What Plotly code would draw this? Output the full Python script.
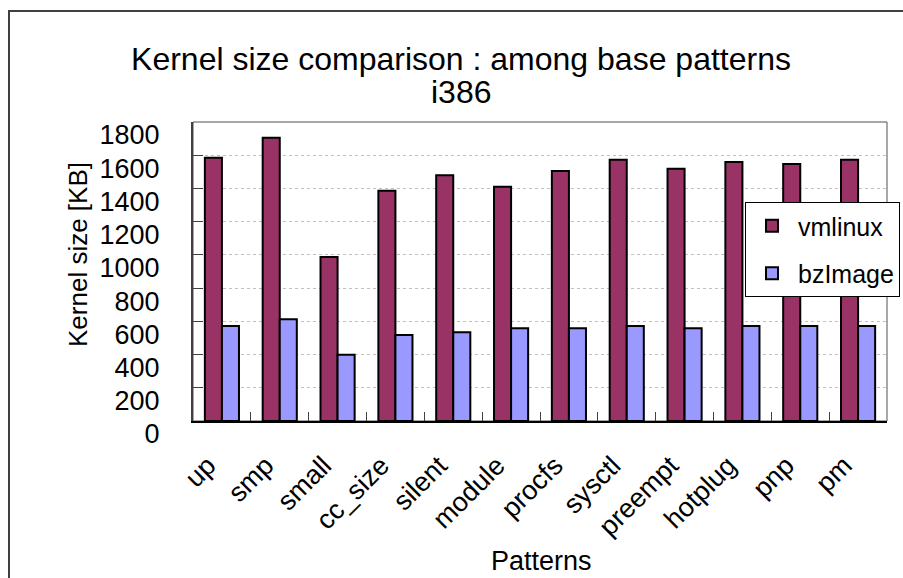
import plotly.graph_objects as go

# Kernel sizes (KB) for each base configuration pattern, i386 build
patterns = ["up", "smp", "small", "cc_size", "silent", "module", "procfs",
            "sysctl", "preempt", "hotplug", "pnp", "pm"]
vmlinux = [1585, 1705, 987, 1386, 1480, 1410, 1505, 1573, 1519, 1559, 1547, 1573]
bzimage = [572, 612, 399, 518, 534, 558, 558, 572, 558, 572, 572, 572]
y_ticks = [0, 200, 400, 600, 800, 1000, 1200, 1400, 1600, 1800]

W, H = 903, 578
L, R, T, B = 193, 16, 122, 157
pw, ph = W - L - R, H - T - B


def px_x(x):
    return (x - L) / pw


def px_y(y):
    return (H - B - y) / ph


FONT = "Liberation Sans, Arial, sans-serif"

fig = go.Figure()
fig.add_trace(go.Bar(
    x=patterns, y=vmlinux, name="vmlinux", legendgroup="a",
    marker=dict(color="#993366", line=dict(color="black", width=2)),
))
fig.add_trace(go.Bar(
    x=patterns, y=bzimage, name="bzImage", legendgroup="b",
    marker=dict(color="#9999FF", line=dict(color="black", width=2)),
))

fig.update_layout(
    width=W, height=H,
    margin=dict(l=L, r=R, t=T, b=B, pad=0, autoexpand=False),
    paper_bgcolor="white", plot_bgcolor="white",
    font=dict(family=FONT, size=27, color="black"),
    barmode="group", bargap=0.41, bargroupgap=0,
    title=dict(text="Kernel size comparison : among base patterns",
               x=461 / W, xanchor="center", y=1 - 59 / H, yanchor="middle",
               font=dict(family=FONT, size=32, color="black")),
    legend=dict(x=px_x(745), xanchor="left", y=px_y(202), yanchor="top",
                bgcolor="white", bordercolor="black", borderwidth=1,
                font=dict(family=FONT, size=25, color="black"),
                itemwidth=42,
                traceorder="grouped", tracegroupgap=12),
    showlegend=True,
)

fig.update_xaxes(
    showline=True, linecolor="black", linewidth=2,
    ticks="inside", tickson="boundaries", ticklen=9, tickcolor="#404040",
    tickangle=-45, tickfont=dict(family=FONT, size=27),
    ticklabelstandoff=16, ticklabelshift=-14,
    showgrid=False,
)
fig.update_yaxes(
    range=[0, 1800], tickvals=y_ticks,
    showline=True, linecolor="#404040", linewidth=2,
    ticks="inside", ticklen=10, tickcolor="#404040",
    tickfont=dict(family=FONT, size=27),
    ticklabelstandoff=26, ticklabelshift=13,
    showgrid=True, gridcolor="#c0c0c0", griddash="dot", gridwidth=1,
    zeroline=False,
)

# plot-area frame (top and right edges) and outer chart frame
fig.add_shape(type="rect", xref="paper", yref="paper", x0=0, x1=1, y0=0, y1=1,
              line=dict(color="#505050", width=1), layer="below")
fig.add_shape(type="rect", xref="paper", yref="paper",
              x0=px_x(9), x1=px_x(960), y0=px_y(640), y1=px_y(11),
              line=dict(color="#404040", width=2), layer="below")

fig.add_annotation(text="i386", xref="paper", yref="paper",
                   x=px_x(461), y=px_y(92), xanchor="center", yanchor="middle",
                   showarrow=False, font=dict(family=FONT, size=32, color="black"))
fig.add_annotation(text="Kernel size [KB]", xref="paper", yref="paper",
                   x=px_x(78), y=px_y(255), xanchor="center", yanchor="middle",
                   textangle=-90, showarrow=False,
                   font=dict(family=FONT, size=26, color="black"))
fig.add_annotation(text="Patterns", xref="paper", yref="paper",
                   x=px_x(541), y=px_y(561), xanchor="center", yanchor="middle",
                   showarrow=False, font=dict(family=FONT, size=27, color="black"))

fig.write_html("out.html")
